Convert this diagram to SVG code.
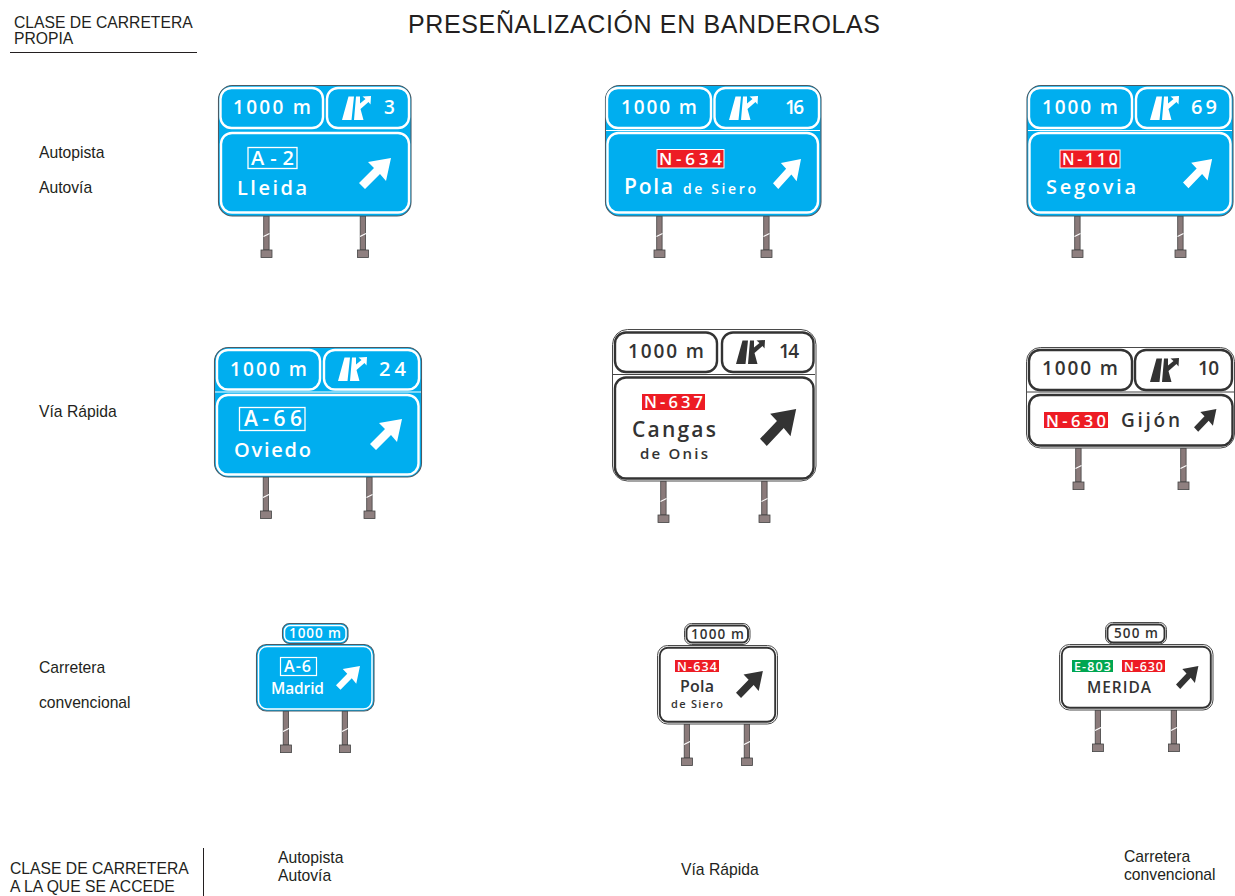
<svg xmlns="http://www.w3.org/2000/svg" width="1235" height="896" viewBox="0 0 1235 896">
<style>
.l{font-family:"Liberation Sans",Arial,sans-serif;font-size:15.700px;fill:#231f20}
.t{font-family:"Liberation Sans",Arial,sans-serif;font-size:25px;fill:#231f20}
.s{font-family:"Open Sans","Noto Sans",sans-serif;font-weight:600}
.w{fill:#fff}.d{fill:#333}
.ob{fill:#00aeef;stroke:#4a5a64;stroke-width:1.100}
.ow{fill:#fff;stroke:#4a4a4a;stroke-width:1}
.ib{fill:none;stroke:#fff;stroke-width:2.400}
.id{fill:none;stroke:#333;stroke-width:2.400}
.ibs{fill:none;stroke:#fff;stroke-width:1.500}
.ids{fill:none;stroke:#333;stroke-width:1.900}
.red{fill:#ed1c24}.grn{fill:#00a651}
.rb{fill:#ed1c24;stroke:#fff;stroke-width:1}
</style>
<defs>
<symbol id="post" viewBox="0 0 12 42" width="12" height="42" overflow="visible">
<rect x="3.200" y="0" width="5.400" height="34" fill="#8a7a7a" stroke="#444" stroke-width="0.800"/>
<path d="M3 20.500 L9 17.500" stroke="#fff" stroke-width="1.100"/>
<rect x="0.500" y="34" width="11" height="7.600" fill="#8f8080" stroke="#444" stroke-width="0.800"/>
</symbol>
<path id="arrow" d="M32 0 L27 23 L21 16 L6 31 L0 25 L15 10 L9 4Z"/>
<path id="exit" d="M0 25 L9.500 25 L12 1.500 L6.500 1.500Z M12 25 L14 1.500 L18 1.500 L18 8.500 L23.500 4 L20.500 1.500 L29 1 L28.500 9.500 L26.500 7 L18.500 14 L21.500 25Z"/>
</defs>

<g id="header">
<text class="l" x="14" y="27.500">CLASE DE CARRETERA</text>
<text class="l" x="14" y="43.500">PROPIA</text>
<path d="M10 52.500H197" stroke="#231f20" stroke-width="1"/>
<text class="t" x="408" y="32.500" textLength="472">PRESEÑALIZACIÓN EN BANDEROLAS</text>
</g>
<g id="row-labels">
<text class="l" x="39" y="158">Autopista</text>
<text class="l" x="39" y="193">Autovía</text>
<text class="l" x="39" y="417">Vía Rápida</text>
<text class="l" x="39" y="673">Carretera</text>
<text class="l" x="39" y="708">convencional</text>
</g>
<g id="column-labels">
<text class="l" x="10" y="873.500">CLASE DE CARRETERA</text>
<text class="l" x="10" y="891.500">A LA QUE SE ACCEDE</text>
<path d="M203.500 848V896" stroke="#231f20" stroke-width="1"/>
<text class="l" x="278" y="862.500">Autopista</text>
<text class="l" x="278" y="880.500">Autovía</text>
<text class="l" x="681" y="874.500">Vía Rápida</text>
<text class="l" x="1124" y="861.500">Carretera</text>
<text class="l" x="1124" y="879.500">convencional</text>
</g>

<g id="sign-1">
<use href="#post" x="260.500" y="216"/><use href="#post" x="357" y="216"/>
<rect class="ob" x="218.500" y="85.500" width="192.500" height="130.500" rx="14"/>
<rect class="ib" x="220.500" y="88" width="102.500" height="40" rx="11"/>
<rect class="ib" x="327" y="88" width="82" height="40" rx="11"/>
<rect class="ib" x="221" y="133" width="188" height="79.500" rx="11"/>
<text class="s w" font-size="19" x="233" y="114" textLength="78">1000 m</text>
<use href="#exit" class="w" x="342" y="95"/>
<text class="s w" font-size="19" x="384" y="114">3</text>
<rect x="248" y="147.500" width="49" height="21" fill="none" stroke="#fff" stroke-width="1.300"/>
<text class="s w" font-size="20" x="251" y="165" textLength="43">A-2</text>
<text class="s w" font-size="20" x="237" y="195" textLength="70">Lleida</text>
<use href="#arrow" class="w" x="359" y="158"/>
</g>

<g id="sign-2">
<use href="#post" x="653.500" y="216"/><use href="#post" x="760.500" y="216"/>
<rect class="ob" x="605.500" y="85.500" width="215.500" height="130.500" rx="14"/>
<path d="M606 130.500H820" stroke="#fff" stroke-width="1.200"/>
<rect class="ib" x="607" y="88" width="104" height="40" rx="11"/>
<rect class="ib" x="714.500" y="88" width="104.500" height="40" rx="11"/>
<rect class="ib" x="607.500" y="133" width="210.500" height="79.500" rx="11"/>
<text class="s w" font-size="19" x="621" y="114" textLength="76">1000 m</text>
<use href="#exit" class="w" x="729" y="95"/>
<text class="s w" font-size="19" x="785" y="114" textLength="19">16</text>
<rect class="rb" x="657" y="149.500" width="67" height="18.500"/>
<text class="s w" font-size="17" x="659" y="165" textLength="63">N-634</text>
<text class="s w" font-size="21" x="624" y="194" textLength="49">Pola</text>
<text class="s w" font-size="14" x="683" y="194" textLength="73">de Siero</text>
<use href="#arrow" class="w" transform="translate(773 159) scale(.875 .97)"/>
</g>

<g id="sign-3">
<use href="#post" x="1071.500" y="216"/><use href="#post" x="1174.500" y="216"/>
<rect class="ob" x="1027" y="85.500" width="206" height="130.500" rx="14"/>
<path d="M1028 130.500H1232" stroke="#fff" stroke-width="1.200"/>
<rect class="ib" x="1029" y="88" width="103" height="40" rx="11"/>
<rect class="ib" x="1136" y="88" width="94.500" height="40" rx="11"/>
<rect class="ib" x="1029.500" y="133" width="201" height="79.500" rx="11"/>
<text class="s w" font-size="19" x="1042" y="114" textLength="76">1000 m</text>
<use href="#exit" class="w" x="1150" y="95"/>
<text class="s w" font-size="20" x="1191" y="114" textLength="26">69</text>
<rect class="rb" x="1060" y="150" width="60" height="18"/>
<text class="s w" font-size="16" x="1062" y="165" textLength="56">N-110</text>
<text class="s w" font-size="20" x="1046" y="194" textLength="90">Segovia</text>
<use href="#arrow" class="w" transform="translate(1183 159) scale(.91 .94)"/>
</g>

<g id="sign-4">
<use href="#post" x="260" y="477"/><use href="#post" x="363.500" y="477"/>
<rect class="ob" x="214.500" y="347.500" width="207" height="129.500" rx="14"/>
<path d="M215 392H421" stroke="#fff" stroke-width="1.200"/>
<rect class="ib" x="217" y="350" width="103" height="39.500" rx="11"/>
<rect class="ib" x="324" y="350" width="95" height="39.500" rx="11"/>
<rect class="ib" x="217" y="395" width="201.500" height="79.500" rx="11"/>
<text class="s w" font-size="19" x="230" y="376" textLength="77">1000 m</text>
<use href="#exit" class="w" x="338" y="356"/>
<text class="s w" font-size="20" x="379" y="376" textLength="27">24</text>
<rect x="239.500" y="407.500" width="65.500" height="23" fill="none" stroke="#fff" stroke-width="1.300"/>
<text class="s w" font-size="21" x="244" y="426" textLength="58">A-66</text>
<text class="s w" font-size="20" x="234" y="457" textLength="77">Oviedo</text>
<use href="#arrow" class="w" x="370" y="419"/>
</g>

<g id="sign-5">
<use href="#post" x="657.500" y="481"/><use href="#post" x="758.500" y="481"/>
<rect class="ow" x="612.500" y="329.500" width="203.500" height="151.500" rx="15"/>
<path d="M613 374.500H815" stroke="#444" stroke-width="1.100"/>
<rect class="id" x="615" y="332.500" width="102" height="39.500" rx="11"/>
<rect class="id" x="722" y="332.500" width="91.500" height="39.500" rx="11"/>
<rect class="id" x="615" y="377.500" width="198.500" height="101" rx="11"/>
<text class="s d" font-size="19" x="628" y="358" textLength="76">1000 m</text>
<use href="#exit" class="d" x="736" y="339"/>
<text class="s d" font-size="19" x="779" y="358" textLength="20">14</text>
<rect class="red" x="642" y="394" width="63" height="16"/>
<text class="s w" font-size="16.500" x="644" y="408" textLength="59">N-637</text>
<text class="s d" font-size="21" x="632" y="437" textLength="84">Cangas</text>
<text class="s d" font-size="15" x="640" y="459" textLength="68">de Onis</text>
<use href="#arrow" class="d" transform="translate(760 409) scale(1.130 1.190)"/>
</g>

<g id="sign-6">
<use href="#post" x="1072.500" y="448"/><use href="#post" x="1177.500" y="448"/>
<rect class="ow" x="1026.500" y="347.500" width="208" height="100.500" rx="14"/>
<path d="M1027 392H1234" stroke="#444" stroke-width="1.100"/>
<rect class="id" x="1029" y="350" width="103" height="40" rx="11"/>
<rect class="id" x="1135" y="350" width="97" height="40" rx="11"/>
<rect class="id" x="1029" y="395" width="203.500" height="50.500" rx="11"/>
<text class="s d" font-size="19" x="1042" y="375" textLength="76">1000 m</text>
<use href="#exit" class="d" x="1150" y="357"/>
<text class="s d" font-size="19" x="1198" y="375" textLength="21">10</text>
<rect class="red" x="1044" y="412" width="64" height="16"/>
<text class="s w" font-size="16.500" x="1046" y="426.500" textLength="60">N-630</text>
<text class="s d" font-size="19" x="1121" y="427" textLength="59">Gijón</text>
<use href="#arrow" class="d" transform="translate(1194 409) scale(.7 .73)"/>
</g>

<g id="sign-7">
<use href="#post" x="280" y="711"/><use href="#post" x="339" y="711"/>
<rect class="ob" x="282.500" y="623.500" width="65.500" height="20" rx="7"/>
<rect class="ibs" x="284.500" y="625.500" width="61.500" height="16" rx="5.500"/>
<rect class="ob" x="256.500" y="644.500" width="117.500" height="66.500" rx="10"/>
<rect class="ibs" x="258.500" y="646.500" width="113.500" height="62.500" rx="8.500"/>
<text class="s w" font-size="13.500" x="289" y="638" textLength="52">1000 m</text>
<rect x="280.500" y="657.500" width="36" height="18" fill="none" stroke="#fff" stroke-width="1.200"/>
<text class="s w" font-size="16" x="284" y="672" textLength="27">A-6</text>
<text class="s w" font-size="15.500" x="271" y="694" textLength="53">Madrid</text>
<use href="#arrow" class="w" transform="translate(336 666) scale(.75 .77)"/>
</g>

<g id="sign-8">
<use href="#post" x="681" y="724"/><use href="#post" x="741" y="724"/>
<rect class="ow" x="684.500" y="623.500" width="65.500" height="21" rx="7"/>
<rect class="ids" x="686.500" y="625.500" width="61.500" height="17" rx="5.500"/>
<rect class="ow" x="657.500" y="645.500" width="120" height="78.500" rx="10"/>
<rect class="ids" x="659.800" y="647.800" width="115.400" height="74" rx="8"/>
<text class="s d" font-size="13.500" x="691" y="639" textLength="53">1000 m</text>
<rect class="red" x="675" y="660" width="44" height="12"/>
<text class="s w" font-size="12.500" x="677" y="670.500" textLength="40">N-634</text>
<text class="s d" font-size="16" x="680" y="692" textLength="34">Pola</text>
<text class="s d" font-size="11" x="671" y="708" textLength="52">de Siero</text>
<use href="#arrow" class="d" transform="translate(736 671) scale(.84 .87)"/>
</g>

<g id="sign-9">
<use href="#post" x="1092" y="710"/><use href="#post" x="1168" y="710"/>
<rect class="ow" x="1105.500" y="622.500" width="61" height="21.500" rx="7"/>
<rect class="ids" x="1107.500" y="624.500" width="57" height="18" rx="5.500"/>
<rect class="ow" x="1059.500" y="644.500" width="153.500" height="65.500" rx="10"/>
<rect class="ids" x="1061.800" y="646.800" width="149" height="61" rx="8"/>
<text class="s d" font-size="13.500" x="1114" y="638" textLength="44">500 m</text>
<rect class="grn" x="1072" y="660" width="41" height="12"/>
<text class="s w" font-size="12.500" x="1074" y="670.500" textLength="37">E-803</text>
<rect class="red" x="1122" y="660" width="43" height="12"/>
<text class="s w" font-size="12.500" x="1124" y="670.500" textLength="39">N-630</text>
<text class="s d" font-size="15.500" font-weight="700" x="1087" y="693" textLength="64">MERIDA</text>
<use href="#arrow" class="d" transform="translate(1176 666) scale(.7 .74)"/>
</g>
</svg>
